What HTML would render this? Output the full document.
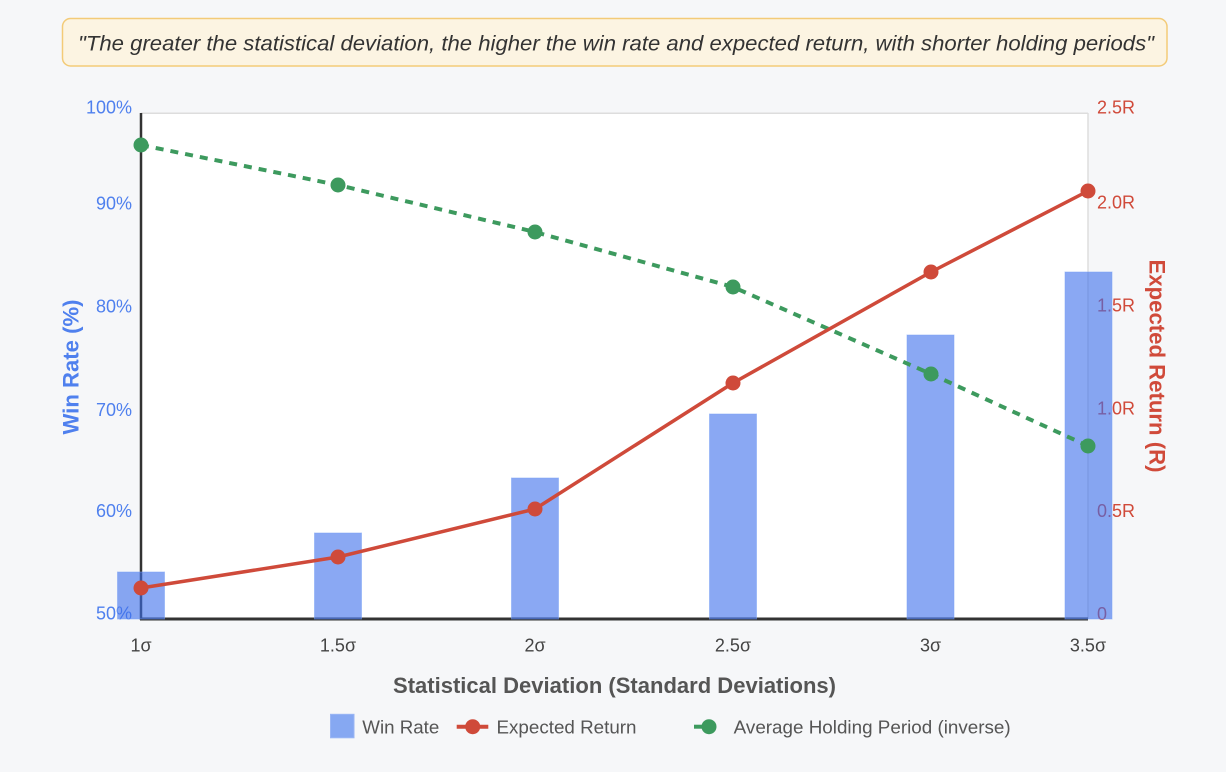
<!DOCTYPE html>
<html>
<head>
<meta charset="utf-8">
<style>
  html, body { margin:0; padding:0; background:#f6f7f9; }
  svg { display:block; }
  text { font-family: "Liberation Sans", Arial, sans-serif; }
</style>
</head>
<body>
<svg width="1226" height="772" viewBox="0 0 1226 772" xmlns="http://www.w3.org/2000/svg">
  <rect x="0" y="0" width="1226" height="772" fill="#f6f7f9"/>

  <!-- Quote box -->
  <rect x="62.5" y="18.5" width="1104.5" height="47.5" rx="8" ry="8" fill="#fcf4e2" stroke="#f3cb78" stroke-width="1.5"/>
  <text x="78" y="50.5" font-size="21" font-style="italic" fill="#333" textLength="1076" lengthAdjust="spacingAndGlyphs">"The greater the statistical deviation, the higher the win rate and expected return, with shorter holding periods"</text>

  <!-- Plot area -->
  <rect x="141" y="113" width="947" height="506" fill="#ffffff"/>
  <line x1="141" y1="113.3" x2="1088" y2="113.3" stroke="#dddddd" stroke-width="1.5"/>
  <line x1="1088" y1="113" x2="1088" y2="619" stroke="#dddddd" stroke-width="1.5"/>

  <!-- Left tick labels -->
  <g font-size="18" fill="#4f80ee" text-anchor="end">
    <text x="132" y="113.4">100%</text>
    <text x="132" y="209.7">90%</text>
    <text x="132" y="312.7">80%</text>
    <text x="132" y="415.9">70%</text>
    <text x="132" y="517.2">60%</text>
    <text x="132" y="619.4">50%</text>
  </g>

  <!-- Right tick labels -->
  <g font-size="18" fill="#d04a3a" text-anchor="start">
    <text x="1097" y="113.4">2.5R</text>
    <text x="1097" y="208.4">2.0R</text>
    <text x="1097" y="311.4">1.5R</text>
    <text x="1097" y="414.7">1.0R</text>
    <text x="1097" y="517.1">0.5R</text>
    <text x="1097" y="620.1">0</text>
  </g>

  <!-- Axis titles -->
  <text transform="translate(78.5,367) rotate(-90)" font-size="22" font-weight="bold" fill="#4f80ee" text-anchor="middle" textLength="135" lengthAdjust="spacingAndGlyphs">Win Rate (%)</text>
  <text transform="translate(1149.5,366) rotate(90)" font-size="22" font-weight="bold" fill="#d04a3a" text-anchor="middle" textLength="213" lengthAdjust="spacingAndGlyphs">Expected Return (R)</text>

  <!-- Axis lines -->
  <line x1="141" y1="113" x2="141" y2="620" stroke="#333333" stroke-width="2.5"/>
  <line x1="140" y1="619" x2="1088" y2="619" stroke="#333333" stroke-width="3"/>

  <!-- X tick labels -->
  <g font-size="18" fill="#444444" text-anchor="middle">
    <text x="141" y="651.5">1σ</text>
    <text x="338" y="651.5">1.5σ</text>
    <text x="535" y="651.5">2σ</text>
    <text x="733" y="651.5">2.5σ</text>
    <text x="930.5" y="651.5">3σ</text>
    <text x="1088" y="651.5">3.5σ</text>
  </g>

  <!-- X title -->
  <text x="614.5" y="693" font-size="22" font-weight="bold" fill="#555555" text-anchor="middle" textLength="443" lengthAdjust="spacingAndGlyphs">Statistical Deviation (Standard Deviations)</text>

  <!-- Bars -->
  <g fill="rgba(60,110,235,0.6)" stroke="rgba(120,160,245,0.5)" stroke-width="1">
    <rect x="117.5" y="572" width="47" height="47"/>
    <rect x="314.5" y="533" width="47" height="86"/>
    <rect x="511.5" y="478" width="47" height="141"/>
    <rect x="709.5" y="414" width="47" height="205"/>
    <rect x="907" y="335" width="47" height="284"/>
    <rect x="1065" y="272" width="47" height="347"/>
  </g>

  <!-- Green dashed line -->
  <polyline points="141,145 338,185 535,232 733,287 931,374 1088,446" fill="none" stroke="#3d9a5e" stroke-width="4" stroke-dasharray="8 7"/>
  <g fill="#3d9a5e">
    <circle cx="141" cy="145" r="7.5"/>
    <circle cx="338" cy="185" r="7.5"/>
    <circle cx="535" cy="232" r="7.5"/>
    <circle cx="733" cy="287" r="7.5"/>
    <circle cx="931" cy="374" r="7.5"/>
    <circle cx="1088" cy="446" r="7.5"/>
  </g>

  <!-- Red line -->
  <polyline points="141,588 338,557 535,509 733,383 931,272 1088,191" fill="none" stroke="#cf4a3a" stroke-width="3.5" stroke-linejoin="round"/>
  <g fill="#cf4a3a">
    <circle cx="141" cy="588" r="7.5"/>
    <circle cx="338" cy="557" r="7.5"/>
    <circle cx="535" cy="509" r="7.5"/>
    <circle cx="733" cy="383" r="7.5"/>
    <circle cx="931" cy="272" r="7.5"/>
    <circle cx="1088" cy="191" r="7.5"/>
  </g>

  <!-- Legend -->
  <rect x="330.5" y="714.3" width="23.5" height="23.5" fill="#86a8f2" stroke="#9ab6f4" stroke-width="1"/>
  <text x="362.3" y="733.3" font-size="18.5" fill="#555555" textLength="77" lengthAdjust="spacingAndGlyphs">Win Rate</text>

  <line x1="456.7" y1="726.7" x2="488.3" y2="726.7" stroke="#cf4a3a" stroke-width="4"/>
  <circle cx="472.7" cy="726.7" r="7.5" fill="#cf4a3a"/>
  <text x="496.5" y="733.3" font-size="18.5" fill="#555555" textLength="140" lengthAdjust="spacingAndGlyphs">Expected Return</text>

  <line x1="694" y1="726.7" x2="703" y2="726.7" stroke="#3d9a5e" stroke-width="4"/>
  <circle cx="709" cy="726.7" r="7.5" fill="#3d9a5e"/>
  <text x="733.7" y="733.3" font-size="18.5" fill="#555555" textLength="277" lengthAdjust="spacingAndGlyphs">Average Holding Period (inverse)</text>
</svg>
</body>
</html>
